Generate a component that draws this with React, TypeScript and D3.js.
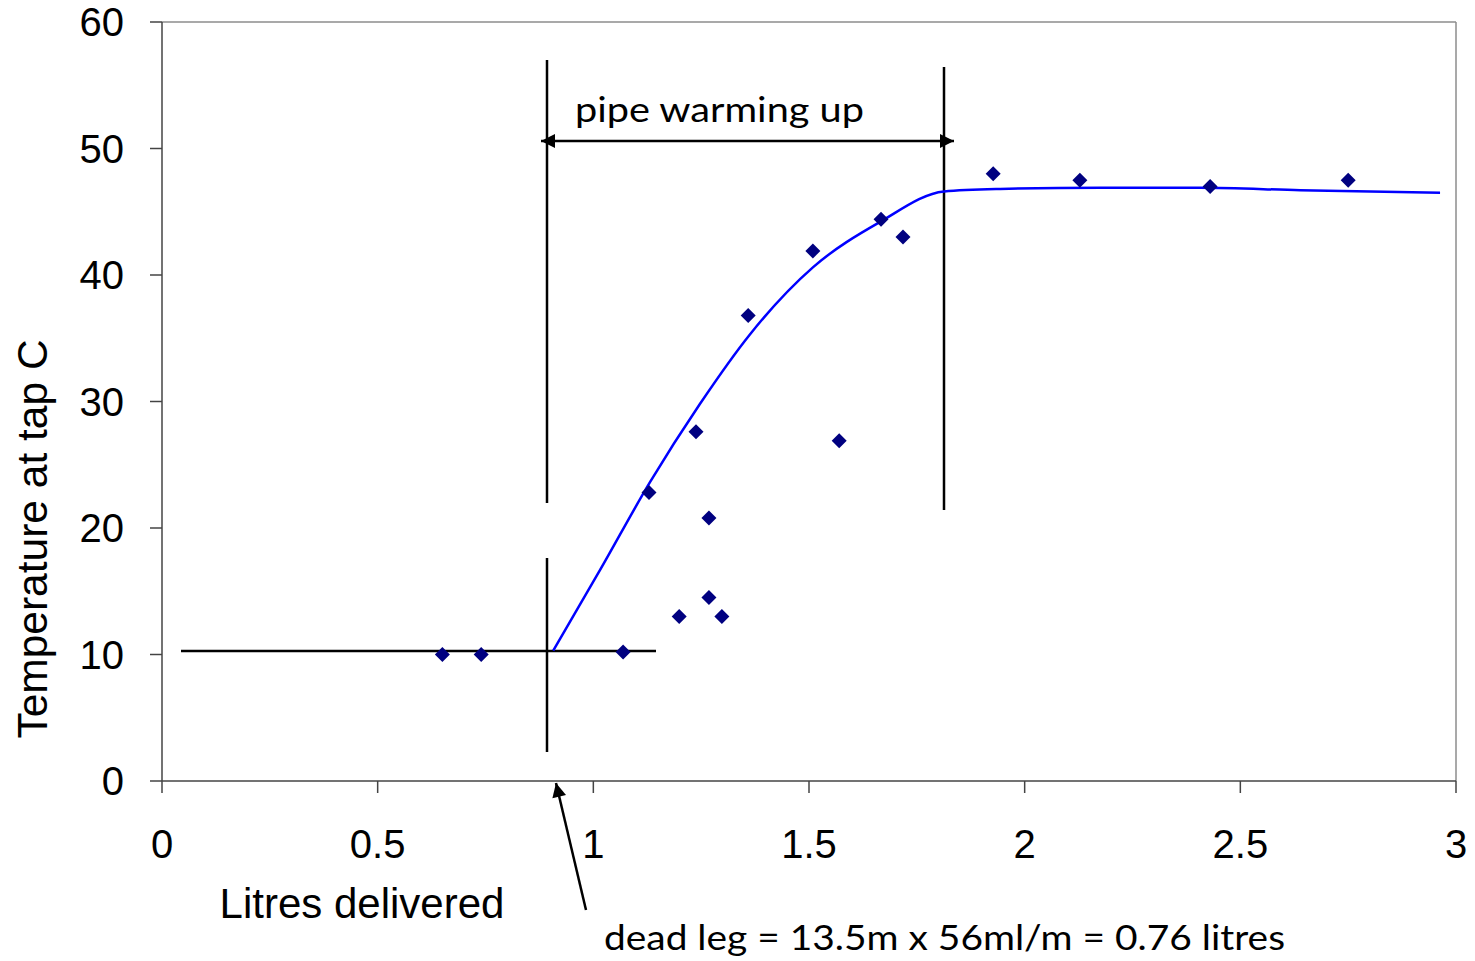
import React from "react";
import * as d3 from "d3";

const xTicks = [0, 0.5, 1, 1.5, 2, 2.5, 3];
const yTicks = [0, 10, 20, 30, 40, 50, 60];

const pointX = [0.65, 0.74, 1.069, 1.129, 1.199, 1.238, 1.268, 1.268, 1.298, 1.359, 1.509, 1.57, 1.667, 1.718, 1.927, 2.128, 2.43, 2.75];
const pointY = [10.0, 10.0, 10.2, 22.8, 13.0, 27.6, 14.5, 20.8, 13.0, 36.8, 41.9, 26.9, 44.4, 43.0, 48.0, 47.5, 47.0, 47.5];

const curveX = [0.907, 1.016, 1.131, 1.247, 1.363, 1.509, 1.665, 1.813, 1.943, 2.175, 2.407, 2.639, 2.963];
const curveY = [10.3, 16.7, 23.6, 29.8, 35.3, 40.6, 44.2, 46.6, 46.8, 46.9, 46.9, 46.7, 46.5];

const W = 1475, H = 961;
const L = 162, R = 1456, T = 22, B = 781;

export default function App() {
  const x = d3.scaleLinear().domain([0, 3]).range([L, R]);
  const y = d3.scaleLinear().domain([0, 60]).range([B, T]);
  const line = d3.line<number>().x((_, i) => x(curveX[i])).y((_, i) => y(curveY[i])).curve(d3.curveMonotoneX);
  const pathD = line(curveX) || "";
  const axisFont = "'Liberation Sans', Arial, sans-serif";
  const noteFont = "Lato, 'Open Sans', sans-serif";
  const s = 7.5;
  return (
    <svg width={W} height={H} style={{ position: "absolute", left: 0, top: 0 }} viewBox={`0 0 ${W} ${H}`}>
      <defs>
        <marker id="ah" viewBox="0 0 10 10" refX="10" refY="5" markerWidth="15" markerHeight="14" markerUnits="userSpaceOnUse" orient="auto-start-reverse">
          <path d="M0,0 L10,5 L0,10 z" fill="#000" />
        </marker>
      </defs>
      <rect x={0} y={0} width={W} height={H} fill="#fff" />
      {/* plot border */}
      <line x1={L} x2={R} y1={T} y2={T} stroke="#8c8c8c" strokeWidth={1.5} />
      <line x1={R} x2={R} y1={T} y2={B} stroke="#8c8c8c" strokeWidth={1.5} />
      <line x1={L} x2={L} y1={T} y2={B} stroke="#444" strokeWidth={1.5} />
      <line x1={L} x2={R} y1={B} y2={B} stroke="#444" strokeWidth={1.5} />
      {yTicks.map((t) => (
        <g key={"y" + t}>
          <line x1={L - 12} x2={L} y1={y(t)} y2={y(t)} stroke="#444" strokeWidth={1.5} />
          <text x={124} y={y(t) + 14} textAnchor="end" fontFamily={axisFont} fontSize={40}>{t}</text>
        </g>
      ))}
      {xTicks.map((t) => (
        <g key={"x" + t}>
          <line x1={x(t)} x2={x(t)} y1={B} y2={B + 12} stroke="#444" strokeWidth={1.5} />
          <text x={x(t)} y={858} textAnchor="middle" fontFamily={axisFont} fontSize={40}>{t}</text>
        </g>
      ))}
      <text x={362} y={918} textAnchor="middle" fontFamily={axisFont} fontSize={42}>Litres delivered</text>
      <text transform={`translate(47,539) rotate(-90)`} textAnchor="middle" fontFamily={axisFont} fontSize={42.5}>Temperature at tap C</text>

      {/* annotation lines */}
      <line x1={181} x2={656} y1={651} y2={651} stroke="#000" strokeWidth={2.5} />
      <line x1={547} x2={547} y1={60} y2={503} stroke="#000" strokeWidth={2.5} />
      <line x1={547} x2={547} y1={558} y2={752} stroke="#000" strokeWidth={2.5} />
      <line x1={944} x2={944} y1={67} y2={510} stroke="#000" strokeWidth={2.5} />
      <line x1={541} x2={954} y1={141} y2={141} stroke="#000" strokeWidth={2.5} markerEnd="url(#ah)" markerStart="url(#ah)" />
      <line x1={586} x2={556} y1={910} y2={783} stroke="#000" strokeWidth={2.5} markerEnd="url(#ah)" />
      <text x={575} y={122} fontFamily={noteFont} fontSize={35} textLength={289} lengthAdjust="spacingAndGlyphs">pipe warming up</text>
      <text x={604} y={950} fontFamily={noteFont} fontSize={35} textLength={681} lengthAdjust="spacingAndGlyphs">dead leg = 13.5m x 56ml/m = 0.76 litres</text>

      <path d={pathD} fill="none" stroke="#0000ff" strokeWidth={2.5} />
      {pointX.map((px, i) => {
        const cx = x(px), cy = y(pointY[i]);
        return <path key={"p" + i} d={`M${cx},${cy - s} L${cx + s},${cy} L${cx},${cy + s} L${cx - s},${cy} Z`} fill="#000080" />;
      })}
    </svg>
  );
}
